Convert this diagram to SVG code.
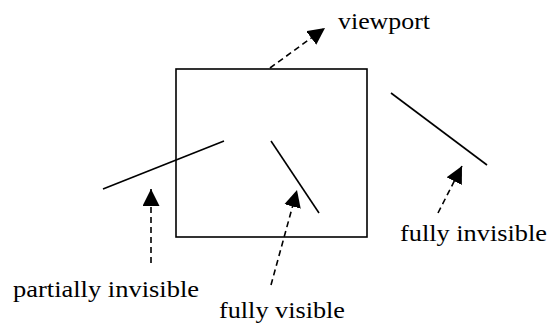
<svg xmlns="http://www.w3.org/2000/svg" width="549" height="325" viewBox="0 0 549 325">
  <style>
    .solid { stroke: #000; stroke-width: 1.6; fill: none; }
    .dash { stroke: #000; stroke-width: 1.6; fill: none; stroke-dasharray: 6 4; }
  </style>
  <defs>
    <marker id="arr" markerUnits="userSpaceOnUse" markerWidth="18" markerHeight="17" refX="17" refY="8.5" orient="auto" viewBox="0 0 18 17">
      <path d="M0,0 L17,8.5 L0,17 z" fill="#000"/>
    </marker>
  </defs>
  <rect width="549" height="325" fill="#fff"/>
  <g id="viewport">
    <rect class="solid" x="176" y="69" width="191" height="168"/>
  </g>
  <g id="line-partial">
    <line class="solid" x1="103" y1="189" x2="224" y2="141"/>
  </g>
  <g id="line-visible">
    <line class="solid" x1="271" y1="141" x2="319" y2="213"/>
  </g>
  <g id="line-invisible">
    <line class="solid" x1="391" y1="93" x2="487" y2="165"/>
  </g>
  <g id="connectors">
    <line class="dash" x1="270" y1="68" x2="325" y2="28" marker-end="url(#arr)"/>
    <line class="dash" x1="151" y1="263" x2="151" y2="189" marker-end="url(#arr)"/>
    <line class="dash" x1="271" y1="285" x2="297" y2="190" marker-end="url(#arr)"/>
    <line class="dash" x1="438" y1="213" x2="462" y2="166" marker-end="url(#arr)"/>
  </g>
  <g id="labels" fill="#000">
    <text x="338" y="29" font-family="Liberation Serif, Times New Roman, Times, serif" font-size="23" textLength="92" lengthAdjust="spacingAndGlyphs">viewport</text>
    <text x="400" y="241" font-family="Liberation Serif, Times New Roman, Times, serif" font-size="23" textLength="147" lengthAdjust="spacingAndGlyphs">fully invisible</text>
    <text x="13" y="297" font-family="Liberation Serif, Times New Roman, Times, serif" font-size="23" textLength="186" lengthAdjust="spacingAndGlyphs">partially invisible</text>
    <text x="219" y="318" font-family="Liberation Serif, Times New Roman, Times, serif" font-size="23" textLength="126" lengthAdjust="spacingAndGlyphs">fully visible</text>
  </g>
</svg>
